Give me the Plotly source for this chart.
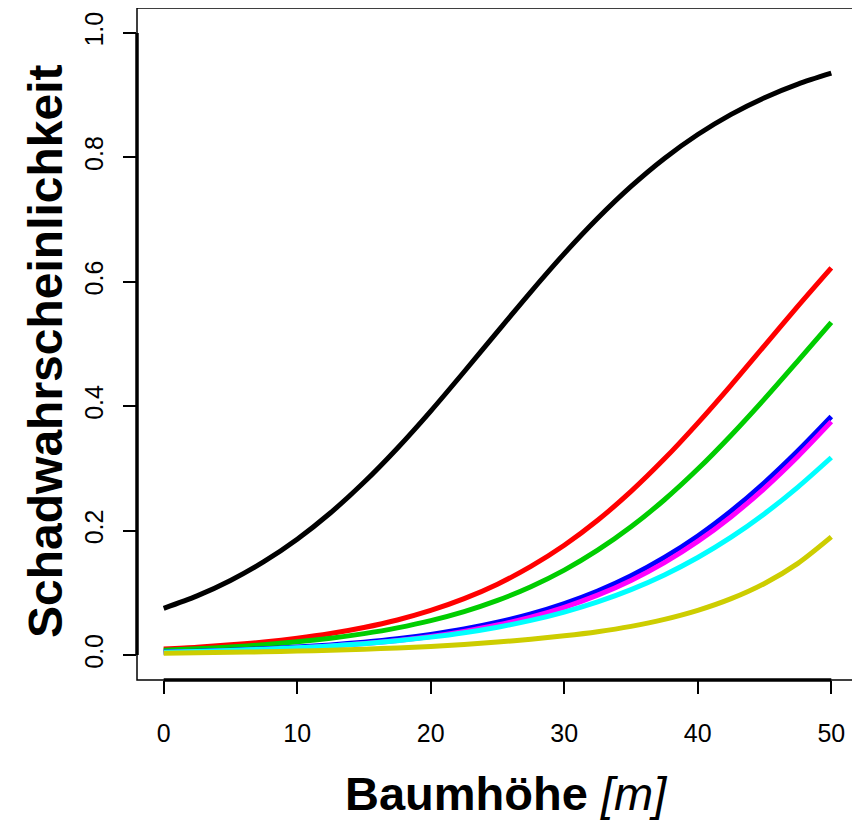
import plotly.graph_objects as go

# Baumhöhe [m]
hoehe = [0, 2.5, 5, 7.5, 10, 12.5, 15, 17.5, 20, 22.5, 25,
         27.5, 30, 32.5, 35, 37.5, 40, 42.5, 45, 47.5, 50]

# Schadwahrscheinlichkeit per curve
p_black = [0.0752, 0.0952, 0.1200, 0.1502, 0.1863, 0.2288, 0.2777, 0.3325, 0.3922, 0.4554, 0.5200,
           0.5839, 0.6452, 0.7020, 0.7532, 0.7982, 0.8367, 0.8691, 0.8959, 0.9177, 0.9352]
p_red = [0.0100, 0.0128, 0.0165, 0.0211, 0.0271, 0.0347, 0.0444, 0.0565, 0.0718, 0.0907, 0.1140,
         0.1425, 0.1765, 0.2167, 0.2631, 0.3154, 0.3729, 0.4340, 0.4975, 0.5610, 0.6225]
p_green = [0.0080, 0.0102, 0.0131, 0.0167, 0.0213, 0.0271, 0.0345, 0.0438, 0.0554, 0.0699, 0.0879,
           0.1099, 0.1366, 0.1686, 0.2062, 0.2497, 0.2990, 0.3535, 0.4119, 0.4730, 0.5349]
p_blue = [0.0050, 0.0063, 0.0080, 0.0102, 0.0129, 0.0164, 0.0208, 0.0263, 0.0333, 0.0419, 0.0528,
          0.0662, 0.0828, 0.1030, 0.1276, 0.1570, 0.1915, 0.2317, 0.2774, 0.3283, 0.3834]
p_magenta = [0.0043, 0.0055, 0.0070, 0.0089, 0.0114, 0.0146, 0.0186, 0.0236, 0.0300, 0.0382, 0.0483,
             0.0610, 0.0768, 0.0963, 0.1200, 0.1487, 0.1827, 0.2225, 0.2681, 0.3193, 0.3752]
p_cyan = [0.0047, 0.0059, 0.0075, 0.0094, 0.0117, 0.0147, 0.0184, 0.0231, 0.0289, 0.0360, 0.0449,
          0.0558, 0.0692, 0.0855, 0.1052, 0.1288, 0.1568, 0.1895, 0.2273, 0.2701, 0.3176]
p_yellow = [0.0030, 0.0037, 0.0045, 0.0054, 0.0065, 0.0078, 0.0095, 0.0115, 0.0140, 0.0172, 0.0210,
            0.0256, 0.0310, 0.0376, 0.0462, 0.0574, 0.0719, 0.0907, 0.1152, 0.1475, 0.1900]

x_ticks = [0, 10, 20, 30, 40, 50]
y_ticks = [0.0, 0.2, 0.4, 0.6, 0.8, 1.0]
y_ticklabels = ["0.0", "0.2", "0.4", "0.6", "0.8", "1.0"]

series = [
    (p_black, "black"),
    (p_red, "#FF0000"),
    (p_green, "#00CD00"),
    (p_blue, "#0000FF"),
    (p_magenta, "#FF00FF"),
    (p_cyan, "#00FFFF"),
    (p_yellow, "#CDCD00"),
]

fig = go.Figure()
for vals, col in series:
    fig.add_trace(go.Scatter(
        x=hoehe, y=vals, mode="lines",
        line=dict(color=col, width=5, shape="spline", smoothing=0.8),
        showlegend=False, hoverinfo="skip",
    ))

tickfont = dict(family="Liberation Sans, Arial, sans-serif", size=25, color="black")
titlefont_x = dict(family="Liberation Sans, Arial, sans-serif", size=47, color="black")
titlefont_y = dict(family="Liberation Sans, Arial, sans-serif", size=48, color="black")

xr = [-2, 52]
yr = [-0.04, 1.04]

fig.update_xaxes(
    range=xr, tickvals=x_ticks, ticktext=[str(v) for v in x_ticks],
    ticks="outside", ticklen=13, tickwidth=2, tickcolor="black",
    showgrid=False, zeroline=False, showline=False, automargin=False,
    tickfont=tickfont, ticklabelstandoff=18,
)
fig.update_yaxes(
    range=yr, tickvals=y_ticks, ticktext=y_ticklabels,
    ticks="outside", ticklen=13, tickwidth=2, tickcolor="black",
    showgrid=False, zeroline=False, showline=False, automargin=False,
    tickfont=tickfont, tickangle=-90, ticklabelstandoff=10,
)

shapes = [
    # thin box
    dict(type="rect", xref="paper", yref="paper", x0=0, x1=1, y0=0, y1=1,
         line=dict(color="black", width=1.5)),
    # thick axis lines from first to last tick
    dict(type="line", xref="x", yref="paper", x0=x_ticks[0], x1=x_ticks[-1], y0=0, y1=0,
         line=dict(color="black", width=3.5)),
    dict(type="line", xref="paper", yref="y", x0=0, x1=0, y0=y_ticks[0], y1=y_ticks[-1],
         line=dict(color="black", width=3.5)),
]

annotations = [
    dict(text="<b>Baumhöhe</b> <i>[m]</i>", xref="paper", yref="paper",
         x=0.512, y=-0.212, xanchor="center", yanchor="bottom",
         showarrow=False, font=titlefont_x),
    dict(text="<b>Schadwahrscheinlichkeit</b>", xref="paper", yref="paper",
         x=-0.1262, y=0.4896, xanchor="center", yanchor="middle", textangle=-90,
         showarrow=False, font=titlefont_y),
]

# page has an 8px body margin; figure is sized so the plot lands where the reference has it
fig.update_layout(
    width=852, height=817,
    margin=dict(l=129, r=2, t=0, b=145, autoexpand=False),
    paper_bgcolor="white", plot_bgcolor="white",
    shapes=shapes, annotations=annotations,
)

fig.write_html("out.html")
